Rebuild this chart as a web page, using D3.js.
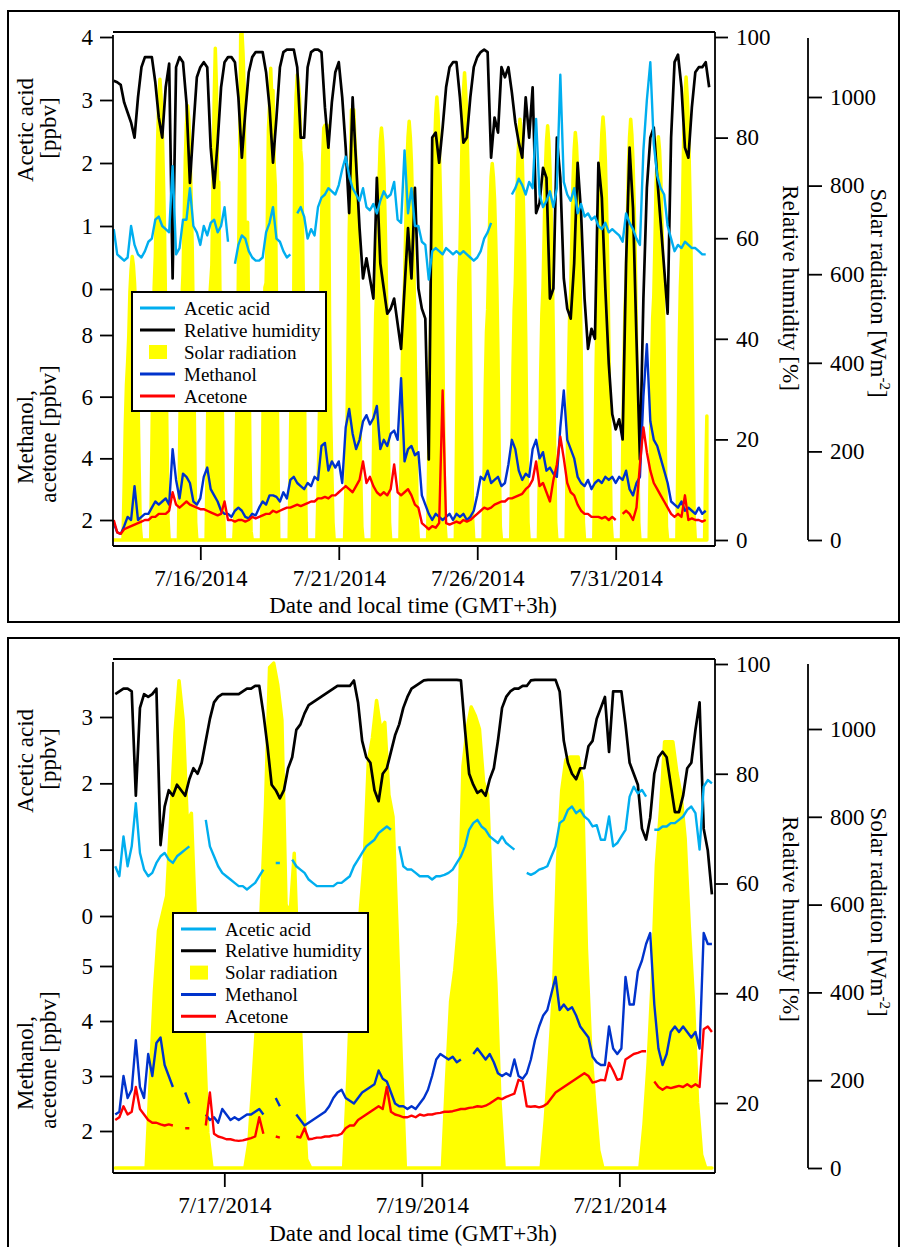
<!DOCTYPE html>
<html><head><meta charset="utf-8">
<script src="https://cdn.jsdelivr.net/npm/d3@7"></script>
<style>
body{margin:0;background:#fff;}
svg text{font-family:"Liberation Serif","Times New Roman",Times,serif;fill:#000;}
</style></head>
<body><svg id="c" width="901" height="1247"></svg>
<script>
// ================= DATA =================
// ---- Top panel: 3-hourly series starting 2014-07-12 21:00 ----
const topStart = new Date(2014, 6, 12, 21, 0);
const topStepHours = 3;
const rhTop = [
 91.3,91,90.5,87,85,83,80,88,94,96,
 96,96,91,84,80,90,94.7,52,94,96,
 95,87,71,82,92,94,95,94,78,70,
 79,90,95,96,96,95,88,76,85,93,
 96,97,97,97,93,86,75,84,94,97,
 97.5,97.5,97.5,94,80,80,94,97,97.5,97.5,
 97,86,78,87,93,95,88,78,65,88,
 75,62,52,56,52,48,72,55,50,45,
 46,48,43,38,50,62,52,70,50,46,
 44,16,80,81,75,82,90,94,95,95,
 88,79,80,88,94,96,97,97.5,97,76,
 84,81,94,92,94,89,83,79,76,88,
 80,90,65,67,74,72,48,50,80,72,
 52,46,44,55,75,65,48,38,42,40,
 75,68,50,35,25,22,24,20,55,78,
 66,40,16,48,70,80,82,72,63,54,
 45,80,95,96.5,90,78,76,86,93,94,
 94,95,90];
const aceticTop = [
 0.95,0.55,0.5,0.45,0.5,1.0,0.7,0.55,0.5,0.6,
 0.75,0.8,1.1,1.15,1.0,0.95,0.9,1.95,0.55,0.65,
 1.1,1.1,1.6,1.0,0.9,0.7,1.0,0.85,1.05,1.1,
 0.9,1.0,1.3,0.75,null,0.4,0.7,0.85,0.8,0.6,
 0.5,0.45,0.45,0.5,0.9,1.05,1.3,0.8,0.75,0.6,
 0.5,0.55,null,1.2,1.3,1.15,0.8,0.95,0.85,1.3,
 1.45,1.5,1.6,1.55,1.5,1.65,1.9,2.1,1.8,1.6,
 1.5,1.4,1.6,1.3,1.25,1.35,1.2,1.4,1.55,1.45,
 1.5,1.7,1.1,1.05,2.2,1.2,1.6,1.0,1.0,0.75,
 0.7,0.15,0.6,0.65,0.6,0.55,0.65,0.6,0.55,0.6,
 0.55,0.6,0.55,0.5,0.45,0.5,0.6,0.8,0.9,1.05,
 null,null,null,null,null,1.5,1.6,1.75,1.65,1.5,
 1.7,1.6,2.7,1.5,1.3,1.4,1.55,1.3,1.6,3.4,
 1.7,1.5,1.4,1.6,1.2,1.35,1.15,1.2,1.1,1.15,
 1.0,0.95,1.05,0.9,0.95,0.9,0.85,0.75,1.2,1.05,
 0.95,0.8,0.7,2.2,3.0,3.6,2.3,1.8,1.6,1.5,
 1.0,0.8,0.6,0.7,0.65,0.75,0.7,0.65,0.65,0.6,
 0.55,0.55,null];
const methanolTop = [
 1.9,1.6,1.55,1.8,2.1,2.0,3.1,2.0,2.1,2.2,
 2.2,2.4,2.6,2.5,2.6,2.7,2.5,4.3,3.3,2.7,
 3.5,3.4,3.2,2.6,2.5,2.7,3.4,3.7,3.0,2.8,
 2.6,2.3,2.2,2.2,2.1,2.3,2.4,2.3,2.1,2.05,
 2.2,2.15,2.4,2.6,2.5,2.8,2.8,2.75,2.6,2.9,
 2.7,3.3,3.4,3.2,3.1,3.0,3.2,3.1,3.4,3.3,
 4.4,4.5,3.6,3.9,3.7,3.9,3.2,5.0,5.6,4.8,
 4.3,4.6,5.2,5.4,5.1,5.3,5.7,4.3,4.6,4.4,
 4.8,4.9,4.6,6.6,3.9,4.3,4.4,4.1,4.2,2.8,
 2.5,2.2,2.0,2.2,2.1,2.0,2.1,2.2,2.0,2.2,
 2.1,2.2,2.0,2.1,2.3,2.8,3.4,3.3,3.6,3.2,
 3.3,3.4,3.1,3.2,3.8,4.6,4.3,3.6,3.3,3.5,
 3.4,4.3,4.6,4.0,4.2,3.6,3.7,3.5,3.4,5.0,
 6.2,4.6,4.3,4.0,3.4,3.2,3.1,3.3,3.0,3.2,
 3.3,3.2,3.4,3.3,3.4,3.2,3.4,3.3,3.6,3.0,
 2.8,3.2,3.4,6.0,7.7,5.2,4.6,4.4,4.0,3.6,
 3.2,2.6,2.5,2.4,2.6,2.3,2.4,2.3,2.2,2.4,
 2.2,2.3,null];
const acetoneTop = [
 2.0,1.6,1.55,1.7,1.75,1.8,1.85,1.9,1.95,2.0,
 2.0,2.1,2.1,2.2,2.2,2.2,2.3,2.9,2.5,2.4,
 2.5,2.6,2.5,2.45,2.4,2.35,2.35,2.3,2.25,2.2,
 2.15,2.2,2.6,2.0,2.0,1.95,2.0,2.0,1.95,2.0,
 2.1,2.05,2.1,2.15,2.2,2.2,2.3,2.25,2.3,2.35,
 2.4,2.4,2.45,2.5,2.45,2.5,2.55,2.6,2.6,2.7,
 2.7,2.75,2.7,2.8,2.8,2.9,3.0,3.1,3.0,2.9,
 3.1,3.3,3.9,3.2,3.4,3.1,2.9,2.8,2.9,2.8,
 3.0,3.8,2.9,2.8,2.9,3.0,2.8,2.5,2.4,1.9,
 1.8,1.7,1.8,1.75,1.9,6.2,1.9,1.85,1.9,1.95,
 1.9,2.0,1.95,2.0,2.1,2.2,2.3,2.4,2.35,2.4,
 2.5,2.55,2.6,2.6,2.7,2.7,2.75,2.8,2.85,3.0,
 3.1,3.3,3.9,3.1,3.2,2.9,2.6,3.3,3.8,4.7,
 4.0,3.2,2.9,2.8,2.5,2.3,2.2,2.2,2.1,2.1,
 2.1,2.05,2.1,2.0,2.1,2.0,null,2.2,2.3,2.2,
 2.0,2.4,3.8,5.0,4.2,3.6,3.2,3.0,2.8,2.6,
 2.4,2.2,2.1,2.2,2.1,2.8,2.0,2.05,2.0,2.0,
 1.95,2.0,null];

// Solar radiation (W m-2): one row per day, hourly values at these local hours
const solarHours = [5,6,7,8,9,10,11,12,13,14,15,16,17,18,19,20,21];
// 2014-07-13 .. 07-15
const solarEarly = [
 [0,120,260,350,400,460,560,610,640,620,580,520,450,320,160,30,0],
 [0,200,420,570,640,760,900,990,1040,1000,930,820,700,500,250,50,0],
 [0,190,400,540,600,720,860,940,980,950,880,780,660,470,240,40,0]];
// 2014-07-16 .. 07-21 (shown in both panels)
const solarMid = [
 [0,200,400,540,580,620,800,990,1110,1020,790,808,560,560,320,80,0],
 [0,60,200,350,600,822,1140,1150,1100,1020,600,580,717,450,200,20,0],
 [0,200,450,570,580,700,925,980,1065,1000,1015,850,800,540,250,0,0],
 [0,200,380,450,560,915,1000,1050,1030,1000,880,850,600,420,150,0,0],
 [0,110,250,400,700,860,930,936,936,936,880,500,280,150,40,0,0],
 [0,100,240,430,690,815,971,971,971,900,850,750,550,383,150,30,0]];
// 2014-07-22 .. 08-03 (last day ends in the morning)
const solarLate = [
 [0,180,380,510,570,680,820,900,930,900,840,740,620,450,220,40,0],
 [0,190,390,520,580,700,840,910,945,910,850,750,630,460,230,40,0],
 [0,200,410,550,610,740,880,960,1000,960,900,790,670,480,240,40,0],
 [0,210,430,580,650,780,930,1010,1055,1010,950,830,700,500,250,50,0],
 [0,170,350,470,520,630,750,820,850,820,770,680,570,410,200,30,0],
 [0,190,390,520,580,700,840,910,950,920,860,760,640,460,230,40,0],
 [0,180,380,510,570,690,830,900,935,900,840,740,620,450,220,40,0],
 [0,180,370,500,560,680,810,880,920,890,830,730,610,440,220,40,0],
 [0,190,390,530,590,710,850,920,955,920,860,760,640,460,230,40,0],
 [0,190,390,520,580,700,840,910,950,915,855,755,635,455,225,40,0],
 [0,180,370,500,550,670,800,870,910,880,820,720,600,430,210,30,0],
 [0,210,430,570,640,770,920,1000,1045,1000,940,820,700,500,250,50,0],
 [0,150,280]];
const solarTopFirstDay = new Date(2014, 6, 13);
const solarBotFirstDay = new Date(2014, 6, 16);

const topXTicks = [new Date(2014,6,16), new Date(2014,6,21), new Date(2014,6,26), new Date(2014,6,31)];
const topAceticTicks = [0,1,2,3,4];
const topMethTicks = [2,4,6,8];
const topRhTicks = [0,20,40,60,80,100];
const solarTicks = [0,200,400,600,800,1000];

// ---- Bottom panel: hourly series starting 2014-07-15 21:30 ----
const botStart = new Date(2014, 6, 15, 21, 30);
const botStepHours = 1;
const rhBot = [
 94.5,95,95.5,95.5,95,76,92,94.5,94,94.5,
 95.5,67,74,77,76,78,77,76,79,81,
 80,82,86,90,93,94,94.5,94.5,94.5,94.5,
 94.5,95,95.5,95.5,96,96,91,85,78,
 77,75.5,77,81,83,88,89,91,92.5,93,
 93.5,94,94.5,95,95.5,96,96,96,96,97,
 93,86,83,82,77,75,80,81,84,87,
 89,92,94,95.5,96,96.5,97,97.1,97.1,97.1,
 97.1,97.1,97.1,97.1,97.1,97,88,80,78,76.5,
 77,76,79,81,86,92,94,95,95.5,95.5,
 96,96,97,97.1,97.1,97.1,97.1,97.1,97.1,95,
 86,82,80,79,81,81,85,
 86,90,92,94,84,95,95,95,89,82,
 80,78,70,68,72,80,83,84,83,78,
 73,73,76,81,82,88,93,70,66,58];
const aceticBot = [
 0.75,0.6,1.2,0.75,1.05,1.7,0.95,0.7,0.6,0.65,
 0.8,0.9,0.95,0.85,0.8,0.9,0.95,1.0,1.05,null,
 null,null,1.45,1.05,0.9,0.75,0.65,0.6,0.55,0.5,
 0.45,0.45,0.4,0.45,0.5,0.6,0.7,null,null,
 0.8,0.8,null,null,0.85,0.75,0.7,0.65,0.55,0.5,
 0.45,0.45,0.45,0.45,0.45,0.5,0.5,0.55,0.6,0.75,
 0.85,0.95,1.05,1.1,1.15,1.25,1.3,1.35,1.3,null,
 1.05,0.75,0.7,0.7,0.65,0.6,0.6,0.6,0.55,0.6,
 0.6,0.62,0.65,0.7,0.8,0.9,1.05,1.3,1.4,1.45,
 1.35,1.3,1.2,1.15,1.1,1.2,1.1,1.05,1.0,null,
 null,0.65,0.62,0.65,0.7,0.72,0.75,0.9,1.05,1.4,
 1.45,1.6,1.65,1.55,1.6,1.5,1.45,
 1.35,1.37,1.15,1.15,1.5,1.05,1.1,1.2,1.3,1.8,
 1.95,1.85,1.9,1.8,null,1.3,1.3,1.35,1.35,1.4,
 1.4,1.45,1.5,1.6,1.65,1.55,1.0,1.95,2.05,2.0];
const methanolBot = [
 2.3,2.35,3.0,2.6,2.75,3.65,2.8,2.6,3.4,3.0,
 3.6,3.7,3.2,3.0,2.8,null,null,2.7,2.5,null,
 null,null,2.3,2.2,2.25,2.15,2.4,2.3,2.2,2.25,
 2.2,2.25,2.3,2.3,2.35,2.4,2.3,null,null,
 2.6,2.45,null,null,null,2.3,2.2,2.1,2.15,2.2,
 2.25,2.3,2.35,2.45,2.6,2.7,2.75,2.6,2.55,2.5,
 2.6,2.7,2.75,2.8,2.85,3.1,2.95,2.9,2.7,2.5,
 2.45,2.45,2.4,2.45,2.4,2.5,2.6,2.75,3.0,3.3,
 3.4,3.35,3.3,3.35,3.25,3.3,null,null,3.4,3.5,
 3.4,3.3,3.4,3.25,3.05,3.0,3.05,3.0,3.3,3.0,
 2.95,3.05,3.3,3.65,3.9,4.1,4.2,4.5,4.8,4.2,
 4.3,4.2,4.25,4.1,3.9,3.8,3.7,
 3.35,3.25,3.2,3.2,3.9,3.5,3.4,3.5,4.8,4.3,
 4.3,4.9,5.1,5.4,5.6,4.3,3.5,3.2,3.4,3.8,
 3.9,3.8,3.9,3.8,3.7,3.8,3.5,5.6,5.4,5.4];
const acetoneBot = [
 2.2,2.25,2.45,2.3,2.35,2.8,2.4,2.3,2.2,2.15,
 2.15,2.12,2.1,2.12,2.1,null,null,2.05,2.05,null,
 null,null,2.1,2.7,1.95,1.9,1.88,1.85,1.85,1.83,
 1.82,1.83,1.85,1.87,1.9,2.25,1.95,null,null,
 1.9,1.88,null,null,null,1.9,1.88,2.05,1.85,1.86,
 1.88,1.88,1.9,1.9,1.92,1.92,1.95,2.05,2.1,2.1,
 2.2,2.25,2.3,2.35,2.4,2.45,2.4,2.8,2.35,2.3,
 2.28,2.25,2.25,2.28,2.25,2.3,2.28,2.3,2.3,2.32,
 2.33,2.35,2.35,2.36,2.38,2.4,2.4,2.42,2.43,2.45,
 2.44,2.46,2.5,2.55,2.6,2.58,2.62,2.65,2.68,2.93,
 2.9,2.45,2.44,2.45,2.43,2.45,2.5,2.6,2.7,2.75,
 2.8,2.85,2.9,2.95,3.0,3.05,3.0,
 2.88,2.9,2.93,2.92,3.24,3.1,2.93,2.95,3.3,3.35,
 3.4,3.42,3.45,3.45,null,2.9,2.8,2.75,2.8,2.78,
 2.8,2.82,2.8,2.85,2.8,2.85,2.8,3.85,3.9,3.8];
const botXTicks = [new Date(2014,6,17), new Date(2014,6,19), new Date(2014,6,21)];
const botAceticTicks = [0,1,2,3];
const botMethTicks = [2,3,4,5];
const botRhTicks = [20,40,60,80,100];

const legendItems = ["Acetic acid","Relative humidity","Solar radiation","Methanol","Acetone"];

// ================= DRAWING =================
const COL = {acetic:"#00AEEF", rh:"#000000", solar:"#FFFF00", meth:"#0033CC", acetone:"#FF0000"};
const FONT = '"Liberation Serif","Times New Roman",Times,serif';
const svg = d3.select("#c");

// outer frames
svg.append("rect").attr("x",8).attr("y",11).attr("width",891).attr("height",611)
  .attr("fill","none").attr("stroke","#000").attr("stroke-width",2);
svg.append("rect").attr("x",8).attr("y",638).attr("width",891).attr("height",640)
  .attr("fill","none").attr("stroke","#000").attr("stroke-width",2);

function seriesTimes(start, stepH, n){
  return d3.range(n).map(i => d3.timeMinute.offset(start, Math.round(i*stepH*60)));
}
function solarPoints(firstDay, hours, rows, start, end){
  const pts = [{t:start, v:0}];
  rows.forEach((row, r) => {
    const d = d3.timeDay.offset(firstDay, r);
    row.forEach((v, k) => pts.push({t: d3.timeHour.offset(d, hours[k]), v}));
  });
  if (end) pts.push({t:end, v:0});
  return pts;
}
function styleAxis(sel){
  sel.select(".domain").remove();
  sel.attr("font-size",23).attr("font-family",FONT);
  sel.selectAll(".tick line").attr("stroke","#000").attr("stroke-width",1.8);
  sel.selectAll(".tick text").attr("fill","#000");
}

function drawPanel(P){
  const g = svg.append("g");
  const clipId = "clip" + P.id;
  g.append("clipPath").attr("id", clipId).append("rect")
    .attr("x", P.left).attr("y", P.top).attr("width", P.right - P.left).attr("height", P.bottom - P.top);
  const dg = g.append("g").attr("clip-path", `url(#${clipId})`);

  // solar radiation area
  const area = d3.area().x(d => P.x(d.t)).y0(P.sol(0)).y1(d => P.sol(d.v));
  dg.append("path").datum(P.solar).attr("d", area)
    .attr("fill", COL.solar).attr("stroke", COL.solar).attr("stroke-width", 3.5).attr("stroke-linejoin","round");

  const pts = arr => P.times.map((t, i) => ({t, v: arr[i]}));
  const mk = s => d3.line().defined(d => d.v != null).x(d => P.x(d.t)).y(d => s(d.v));
  const draw = (arr, scale, col, w) => dg.append("path").datum(pts(arr)).attr("d", mk(scale)(pts(arr)))
      .attr("fill","none").attr("stroke", col).attr("stroke-width", w)
      .attr("stroke-linejoin","round").attr("stroke-linecap","butt");
  draw(P.rhV, P.rh, COL.rh, 2.7);
  draw(P.aceticV, P.acet, COL.acetic, 2.4);
  draw(P.methV, P.meth, COL.meth, 2.4);
  draw(P.acetoneV, P.meth, COL.acetone, 2.4);

  // frame lines / spines
  const ln = (x1,y1,x2,y2) => g.append("line").attr("x1",x1).attr("y1",y1).attr("x2",x2).attr("y2",y2)
      .attr("stroke","#000").attr("stroke-width",1.8);
  ln(P.left, P.top, P.right, P.top);
  ln(P.left, P.top + 3, P.left, P.bottom);
  ln(P.right, P.top, P.right, P.bottom);
  ln(P.left, P.bottom, P.right, P.bottom);
  ln(P.solX, P.solAxisTop, P.solX, P.sol(0));

  // axes
  g.append("g").attr("transform", `translate(${P.left},0)`)
    .call(d3.axisLeft(P.acet).tickValues(P.acetTicks).tickSize(13).tickPadding(7).tickFormat(d3.format("d"))).call(styleAxis);
  g.append("g").attr("transform", `translate(${P.left},0)`)
    .call(d3.axisLeft(P.meth).tickValues(P.methTicks).tickSize(13).tickPadding(7).tickFormat(d3.format("d"))).call(styleAxis);
  g.append("g").attr("transform", `translate(${P.right},0)`)
    .call(d3.axisRight(P.rh).tickValues(P.rhTicks).tickSize(13).tickPadding(8).tickFormat(d3.format("d"))).call(styleAxis);
  g.append("g").attr("transform", `translate(${P.solX},0)`)
    .call(d3.axisRight(P.sol).tickValues(solarTicks).tickSize(14).tickPadding(8).tickFormat(d3.format("d"))).call(styleAxis);
  g.append("g").attr("transform", `translate(0,${P.bottom})`)
    .call(d3.axisBottom(P.x).tickValues(P.xTicks).tickSize(14).tickPadding(10).tickFormat(d3.timeFormat("%-m/%-d/%Y"))).call(styleAxis);

  // titles
  const txt = (x, y, rot, s) => g.append("text").attr("transform", `translate(${x},${y}) rotate(${rot})`)
      .attr("text-anchor","middle").attr("font-size", 23).text(s);
  txt(33, P.acetTitleY, -90, "Acetic acid");
  txt(56, P.acetTitleY - 2, -90, "[ppbv]");
  txt(33, P.methTitleY + 3, -90, "Methanol,");
  txt(56, P.methTitleY, -90, "acetone [ppbv]");
  txt(783, P.rhTitleY, 90, "Relative humidity [%]");
  const st = g.append("text").attr("transform", `translate(871,${P.solTitleY}) rotate(90)`)
      .attr("text-anchor","middle").attr("font-size",23);
  st.append("tspan").text("Solar radiation [Wm");
  st.append("tspan").attr("dy",-9).attr("font-size",15).text("-2");
  st.append("tspan").attr("dy",9).text("]");
  g.append("text").attr("x", 413).attr("y", P.xTitleY).attr("text-anchor","middle").attr("font-size",23)
    .text("Date and local time (GMT+3h)");

  // legend
  const L = P.legend;
  const lg = g.append("g");
  lg.append("rect").attr("x", L.x).attr("y", L.y).attr("width", L.w).attr("height", L.h)
    .attr("fill","#fff").attr("stroke","#000").attr("stroke-width",2);
  const cols = [COL.acetic, COL.rh, COL.solar, COL.meth, COL.acetone];
  legendItems.forEach((name, k) => {
    const yy = L.y + 16 + k * L.dy;
    if (k === 2) {
      lg.append("rect").attr("x", L.x + 17).attr("y", yy - 7).attr("width", 18).attr("height", 14).attr("fill", COL.solar);
    } else {
      lg.append("line").attr("x1", L.x + 8).attr("x2", L.x + 43).attr("y1", yy).attr("y2", yy)
        .attr("stroke", cols[k]).attr("stroke-width", 3);
    }
    lg.append("text").attr("x", L.x + 52).attr("y", yy + 6.5).attr("font-size", 19).text(name);
  });
}

// ---- top panel ----
const topTimes = seriesTimes(topStart, topStepHours, rhTop.length);
const xTop = d3.scaleTime().domain([new Date(2014,6,12,20,20), new Date(2014,7,3,14,3)]).range([113, 715]);
drawPanel({
  id: "top", left: 113, right: 715, top: 32, bottom: 546, solX: 808, solAxisTop: 38,
  x: xTop, xTicks: topXTicks,
  acet: d3.scaleLinear().domain([0,4]).range([289, 37]), acetTicks: topAceticTicks,
  meth: d3.scaleLinear().domain([2,8]).range([520, 335]), methTicks: topMethTicks,
  rh: d3.scaleLinear().domain([0,100]).range([540, 37]), rhTicks: topRhTicks,
  sol: d3.scaleLinear().domain([0,1000]).range([540, 97]),
  times: topTimes, rhV: rhTop, aceticV: aceticTop, methV: methanolTop, acetoneV: acetoneTop,
  solar: solarPoints(solarTopFirstDay, solarHours, [...solarEarly, ...solarMid, ...solarLate], topStart, null),
  acetTitleY: 130, methTitleY: 434, rhTitleY: 288, solTitleY: 293, xTitleY: 613,
  legend: {x: 132, y: 292, w: 194, h: 119, dy: 22}
});

// ---- bottom panel ----
const botTimes = seriesTimes(botStart, botStepHours, rhBot.length);
const xBot = d3.scaleTime().domain([new Date(2014,6,15,20,57), new Date(2014,6,21,23,15)]).range([113, 715]);
drawPanel({
  id: "bot", left: 113, right: 715, top: 659, bottom: 1173, solX: 808, solAxisTop: 664,
  x: xBot, xTicks: botXTicks,
  acet: d3.scaleLinear().domain([0,3]).range([916, 717]), acetTicks: botAceticTicks,
  meth: d3.scaleLinear().domain([2,5]).range([1131, 966]), methTicks: botMethTicks,
  rh: d3.scaleLinear().domain([20,100]).range([1103, 664]), rhTicks: botRhTicks,
  sol: d3.scaleLinear().domain([0,1000]).range([1168, 729]),
  times: botTimes, rhV: rhBot, aceticV: aceticBot, methV: methanolBot, acetoneV: acetoneBot,
  solar: solarPoints(solarBotFirstDay, solarHours, solarMid, botStart, botTimes[botTimes.length-1]),
  acetTitleY: 761, methTitleY: 1060, rhTitleY: 919, solTitleY: 912, xTitleY: 1241,
  legend: {x: 173, y: 913, w: 195, h: 119, dy: 21.8}
});
</script></body></html>
